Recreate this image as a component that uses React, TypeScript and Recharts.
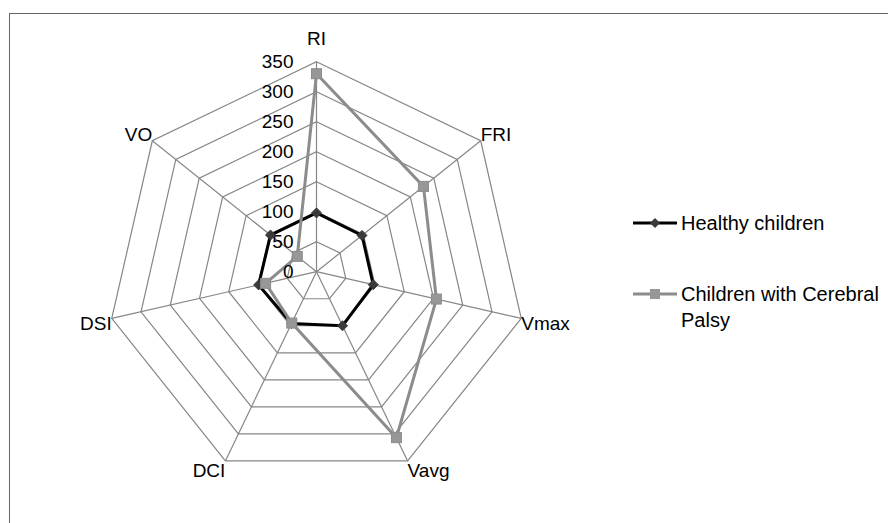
import React from 'react';
import { RadarChart, Radar, PolarGrid, PolarAngleAxis, PolarRadiusAxis, Legend } from 'recharts';

const categories = ['RI', 'FRI', 'Vmax', 'Vavg', 'DCI', 'DSI', 'VO'];
const healthy = [98, 97, 97, 100, 96, 99, 98];
const cerebralPalsy = [330, 228, 205, 307, 95, 87, 41];
const radiusTicks = [0, 50, 100, 150, 200, 250, 300, 350];

const data = categories.map((c, i) => ({ cat: c, healthy: healthy[i], cp: cerebralPalsy[i] }));

const FONT = '"Liberation Sans", Arial, sans-serif';
const TICK_SIZE = 8;

const AngleTick = (props: any) => {
  const { x, y, payload } = props;
  const a = (payload.coordinate * Math.PI) / 180;
  const c = Math.cos(a);
  const s = Math.sin(a);
  const vx = x - TICK_SIZE * c;
  const vy = y + TICK_SIZE * s;
  let anchor = 'middle';
  if (c > 1e-5) anchor = 'start';
  else if (c < -1e-5) anchor = 'end';
  let ty = vy;
  if (Math.abs(c) < 1e-5) ty = s > 0 ? vy - 23 : vy + 23;
  else if (s > 0.7) ty = vy - 7;
  else if (s > 0) ty = vy - 6;
  else if (s < -0.5) ty = vy + 10;
  else ty = vy + 5;
  return (
    <text x={vx} y={ty} textAnchor={anchor} dominantBaseline="central" fontFamily={FONT} fontSize={19} fill="#000">
      {payload.value}
    </text>
  );
};

const RadiusTick = (props: any) => {
  const { x, y, payload } = props;
  return (
    <text x={x - 23} y={y} textAnchor="end" dominantBaseline="central" fontFamily={FONT} fontSize={19} fill="#000">
      {payload.value}
    </text>
  );
};

const DiamondDot = (props: any) => {
  const { cx, cy } = props;
  if (cx == null || cy == null) return null;
  const r = 5;
  return <polygon points={`${cx},${cy - r} ${cx + r},${cy} ${cx},${cy + r} ${cx - r},${cy}`} fill="#3a3a3a" stroke="#3a3a3a" />;
};

const SquareDot = (props: any) => {
  const { cx, cy } = props;
  if (cx == null || cy == null) return null;
  const r = 5;
  return <rect x={cx - r} y={cy - r} width={2 * r} height={2 * r} fill="#979797" stroke="#8c8c8c" />;
};

const LegendContent = () => (
  <div style={{ fontFamily: FONT, fontSize: 20, color: '#000', lineHeight: '26px' }}>
    <div style={{ position: 'absolute', left: 0, top: 10, display: 'flex', alignItems: 'center' }}>
      <svg width={48} height={14}>
        <line x1={2} y1={7} x2={46} y2={7} stroke="#000" strokeWidth={3} />
        <polygon points="24,2 29,7 24,12 19,7" fill="#3a3a3a" />
      </svg>
      <span style={{ marginLeft: 2, whiteSpace: 'nowrap' }}>Healthy children</span>
    </div>
    <div style={{ position: 'absolute', left: 0, top: 81, display: 'flex', alignItems: 'flex-start' }}>
      <svg width={48} height={26}>
        <line x1={2} y1={13} x2={46} y2={13} stroke="#8c8c8c" strokeWidth={3} />
        <rect x={19} y={8} width={10} height={10} fill="#979797" />
      </svg>
      <span style={{ marginLeft: 2, width: 215 }}>Children with Cerebral Palsy</span>
    </div>
  </div>
);

export default function App() {
  return (
    <div style={{ position: 'absolute', left: 0, top: 0, width: 888, height: 523, overflow: 'hidden', background: '#fff' }}>
      <div style={{ position: 'absolute', left: 9, top: 13, width: 900, height: 600, borderTop: '1px solid #666', borderLeft: '1px solid #666' }} />
      <div style={{ position: 'absolute', left: 0, top: 0 }}>
        <RadarChart
          width={888}
          height={523}
          data={data}
          cx={316.5}
          cy={271.7}
          outerRadius={210}
          margin={{ top: 0, right: 0, bottom: 0, left: 0 }}
        >
          <PolarGrid gridType="polygon" stroke="#868686" strokeWidth={1.2} />
          <PolarAngleAxis dataKey="cat" tick={<AngleTick />} tickSize={TICK_SIZE} axisLine={false} tickLine={false} />
          <PolarRadiusAxis
            angle={90}
            domain={[0, 350]}
            ticks={radiusTicks}
            tickCount={8}
            axisLine={false}
            tickLine={false}
            tick={<RadiusTick />}
            orientation="left"
          />
          <Radar
            name="Healthy children"
            dataKey="healthy"
            stroke="#000"
            strokeWidth={3}
            fill="none"
            fillOpacity={0}
            dot={<DiamondDot />}
            isAnimationActive={false}
          />
          <Radar
            name="Children with Cerebral Palsy"
            dataKey="cp"
            stroke="#8c8c8c"
            strokeWidth={3}
            fill="none"
            fillOpacity={0}
            dot={<SquareDot />}
            isAnimationActive={false}
          />
          <Legend
            content={<LegendContent />}
            layout="vertical"
            verticalAlign="top"
            align="left"
            wrapperStyle={{ position: 'absolute', left: 631, top: 200, width: 250, height: 140 }}
          />
        </RadarChart>
      </div>
    </div>
  );
}
